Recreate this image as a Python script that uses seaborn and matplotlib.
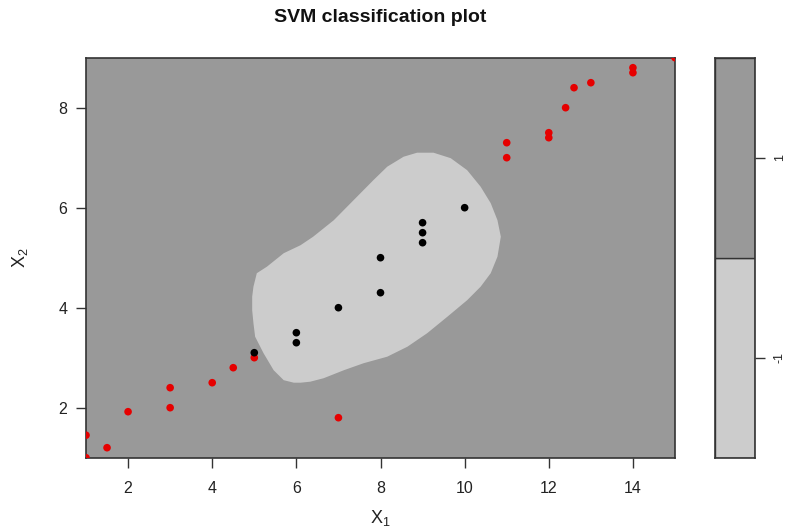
import numpy as np
import pandas as pd
import matplotlib
matplotlib.use("Agg")
import matplotlib.pyplot as plt
import seaborn as sns

# ---- data ----
red_x = [1, 1, 1.5, 2, 3, 3, 4, 4.5, 5, 7, 11, 11, 12, 12, 12.4, 12.6, 13, 14, 14, 15]
red_y = [1.45, 1.0, 1.2, 1.92, 2.4, 2.0, 2.5, 2.8, 3.0, 1.8, 7.3, 7.0, 7.5, 7.4, 8.0, 8.4, 8.5, 8.8, 8.7, 9.0]
black_x = [5, 6, 6, 7, 8, 8, 9, 9, 9, 10]
black_y = [3.1, 3.5, 3.3, 4.0, 4.3, 5.0, 5.7, 5.5, 5.3, 6.0]

# boundary of the class -1 (light) decision region
region_x = [4.95, 4.98, 5.06, 5.30, 5.70, 6.10, 6.40, 6.89, 7.36, 7.83, 8.16, 8.55, 8.87, 9.26,
            9.67, 10.06, 10.38, 10.62, 10.78, 10.86, 10.78, 10.62, 10.38, 10.06, 9.59, 9.11,
            8.64, 8.16, 7.60, 7.13, 6.65, 6.33, 6.10, 5.94, 5.70, 5.46, 5.22, 5.02, 4.98, 4.95]
region_y = [4.22, 4.42, 4.69, 4.82, 5.09, 5.25, 5.42, 5.75, 6.15, 6.55, 6.82, 7.02, 7.10, 7.10,
            6.99, 6.75, 6.42, 6.09, 5.75, 5.42, 5.02, 4.69, 4.42, 4.15, 3.82, 3.49, 3.22,
            3.02, 2.89, 2.75, 2.59, 2.52, 2.50, 2.50, 2.55, 2.75, 3.09, 3.42, 3.69, 3.95]

classes = [-1, 1]
class_labels = ["-1", "1"]
x_ticks = [2, 4, 6, 8, 10, 12, 14]
y_ticks = [2, 4, 6, 8]

title = "SVM classification plot"

dark = "#999999"
light = "#CCCCCC"

sns.set_theme(style="white")
plt.rcParams['font.family'] = ['Liberation Sans', 'DejaVu Sans']
plt.rcParams['mathtext.fontset'] = 'custom'
plt.rcParams['mathtext.rm'] = 'Liberation Sans'
plt.rcParams['mathtext.it'] = 'Liberation Sans'

fig = plt.figure(figsize=(7.87, 5.29), dpi=100)
W, H = 787, 529
ax = fig.add_axes([86 / W, 1 - 457.7 / H, (675 - 86) / W, (457.7 - 57.7) / H])
cax = fig.add_axes([715 / W, 1 - 457.7 / H, (755 - 715) / W, (457.7 - 57.7) / H])

ax.set_xlim(1, 15)
ax.set_ylim(1, 9)
ax.set_facecolor(dark)
ax.fill(region_x, region_y, color=light, lw=0, zorder=1)

pts = pd.DataFrame({
    "x": red_x + black_x,
    "y": red_y + black_y,
    "cls": ["1"] * len(red_x) + ["-1"] * len(black_x),
})
sns.scatterplot(data=pts, x="x", y="y", hue="cls", palette={"1": "#E60000", "-1": "black"},
                s=30, linewidth=0, ax=ax, legend=False, zorder=3, clip_on=True)

ax.set_xticks(x_ticks)
ax.set_yticks(y_ticks)
ax.tick_params(axis="both", which="both", direction="out", length=7.5, width=1, color="#333333",
               labelsize=11.5, labelcolor="#222222", pad=6, bottom=True, left=True)
ax.tick_params(axis="x", pad=9)
ax.set_xlabel(r"$\mathregular{X_1}$", fontsize=13, color="#222222", labelpad=9)
ax.set_ylabel(r"$\mathregular{X_2}$", fontsize=13, color="#222222", labelpad=20)
for sp in ax.spines.values():
    sp.set_color("#333333")
    sp.set_linewidth(1.2)

fig.text(380 / W, 1 - 18 / H, title, ha="center", va="center", fontsize=14, fontweight="bold",
         color="#111111")

# colour key
cax.bar([0, 0], [1, 1], bottom=[0, 1], width=1, color=[light, dark], edgecolor="#333333", linewidth=1)
cax.set_xlim(-0.5, 0.5)
cax.set_ylim(0, 2)
cax.set_xticks([])
cax.set_yticks([0.5, 1.5])
cax.set_yticklabels(class_labels, rotation=90, va="center")
cax.yaxis.tick_right()
cax.tick_params(axis="y", direction="out", length=7.5, width=1, color="#333333",
                labelsize=9, labelcolor="#222222", pad=6, right=True, left=False)
for sp in cax.spines.values():
    sp.set_color("#333333")
    sp.set_linewidth(1.2)

fig.savefig("out.png", dpi=100, facecolor="white")
